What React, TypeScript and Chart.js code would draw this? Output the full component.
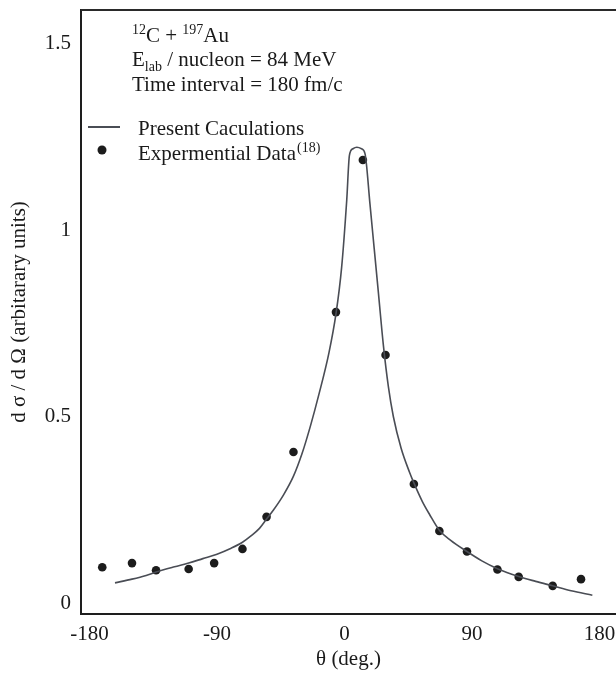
import React, { useEffect, useRef } from "react";
import { Chart, registerables } from "chart.js";

Chart.register(...registerables);

// Calculated curve (theta in degrees, dσ/dΩ arbitrary units)
const curveTheta = [-162, -150, -140, -133, -120, -110, -100, -90, -80, -72, -66, -60, -55, -50, -43, -36, -30, -24, -18, -11, -6, -2, 1.6, 3.5, 6, 8.7, 12, 14.5, 18, 21, 24, 27.5, 31, 34.5, 40, 46, 49, 55, 60, 67, 75, 86.5, 97, 108, 123, 135, 147, 160, 175];
const curveValue = [0.054, 0.064, 0.074, 0.083, 0.097, 0.107, 0.119, 0.131, 0.147, 0.163, 0.18, 0.2, 0.225, 0.25, 0.29, 0.34, 0.4, 0.475, 0.56, 0.67, 0.775, 0.9, 1.08, 1.2, 1.218, 1.222, 1.218, 1.205, 1.07, 0.95, 0.83, 0.69, 0.58, 0.5, 0.415, 0.35, 0.322, 0.272, 0.238, 0.195, 0.168, 0.138, 0.113, 0.092, 0.071, 0.058, 0.046, 0.033, 0.021];

// Experimental data points
const dataTheta = [-171, -150, -133, -110, -92, -72, -55, -36, -6, 13, 29, 49, 67, 86.5, 108, 123, 147, 167];
const dataValue = [0.096, 0.107, 0.088, 0.091, 0.107, 0.145, 0.231, 0.405, 0.78, 1.188, 0.665, 0.319, 0.193, 0.138, 0.09, 0.07, 0.046, 0.064];

const xTicks = [-180, -90, 0, 90, 180];
const yTicks = [0, 0.5, 1, 1.5];

const FONT = '"Liberation Serif", "Times New Roman", serif';
const TEXT = "#1a1a1a";
const LINE_COLOR = "#4a4d55";
const DOT_COLOR = "#1c1c1c";

const annotationPlugin = {
  id: "annotationText",
  afterDraw(chart: any) {
    const { ctx, chartArea } = chart;
    const big = `21px ${FONT}`;
    const small = `14px ${FONT}`;
    ctx.save();
    ctx.fillStyle = TEXT;
    ctx.textBaseline = "alphabetic";
    ctx.textAlign = "left";

    // top border of the frame
    ctx.strokeStyle = "#2a2a2a";
    ctx.lineWidth = 2;
    ctx.beginPath();
    ctx.moveTo(chartArea.left, chartArea.top);
    ctx.lineTo(chart.width, chartArea.top);
    ctx.stroke();

    const x0 = chartArea.left + 51;
    const put = (t: string, font: string, x: number, y: number) => {
      ctx.font = font;
      ctx.fillText(t, x, y);
      return x + ctx.measureText(t).width;
    };

    // line 1: 12C + 197Au
    let x = x0;
    let b = 42;
    x = put("12", small, x, b - 8);
    x = put("C + ", big, x, b);
    x = put("197", small, x, b - 8);
    put("Au", big, x, b);

    // line 2: E_lab / nucleon = 84 MeV
    x = x0;
    b = 66;
    x = put("E", big, x, b);
    x = put("lab", small, x, b + 5);
    put(" / nucleon = 84 MeV", big, x, b);

    // line 3
    put("Time interval = 180 fm/c", big, x0, 91);

    // legend
    const ds0 = chart.data.datasets[0];
    const ds1 = chart.data.datasets[1];
    ctx.strokeStyle = ds0.borderColor;
    ctx.lineWidth = 2;
    ctx.beginPath();
    ctx.moveTo(chartArea.left + 7, 127);
    ctx.lineTo(chartArea.left + 39, 127);
    ctx.stroke();
    put("Present Caculations", big, chartArea.left + 57, 135);

    ctx.fillStyle = ds1.backgroundColor;
    ctx.beginPath();
    ctx.arc(chartArea.left + 21, 150, 4.5, 0, Math.PI * 2);
    ctx.fill();
    ctx.fillStyle = TEXT;
    x = put("Expermential Data", big, chartArea.left + 57, 160);
    put("(18)", small, x + 1, 152);

    ctx.restore();
  },
};

export default function App() {
  const ref = useRef<HTMLCanvasElement>(null);

  useEffect(() => {
    if (!ref.current) return;
    const chart = new Chart(ref.current, {
      type: "scatter",
      data: {
        datasets: [
          {
            label: "Present Caculations",
            data: curveTheta.map((t, i) => ({ x: t, y: curveValue[i] })),
            showLine: true,
            borderColor: LINE_COLOR,
            borderWidth: 1.6,
            pointRadius: 0,
            cubicInterpolationMode: "monotone",
            fill: false,
          },
          {
            label: "Expermential Data(18)",
            data: dataTheta.map((t, i) => ({ x: t, y: dataValue[i] })),
            showLine: false,
            backgroundColor: DOT_COLOR,
            borderColor: DOT_COLOR,
            pointRadius: 4.3,
            borderWidth: 0,
          },
        ],
      },
      options: {
        responsive: false,
        animation: false,
        layout: { autoPadding: false, padding: { top: 10, left: 0, right: 0, bottom: 0 } },
        plugins: {
          legend: { display: false },
          tooltip: { enabled: false },
        },
        scales: {
          x: {
            type: "linear",
            min: -186,
            max: 191.7,
            grid: { display: false, drawTicks: false },
            border: { display: true, color: "#1e1e1e", width: 2 },
            afterBuildTicks: (s: any) => {
              s.ticks = xTicks.map((v) => ({ value: v }));
            },
            afterFit: (s: any) => {
              s.height = 59;
              s.paddingLeft = 0;
              s.paddingRight = 0;
            },
            ticks: {
              padding: 8,
              color: TEXT,
              font: { family: FONT, size: 21 },
              callback: (v: any) => String(v),
              maxRotation: 0,
              autoSkip: false,
            },
            title: {
              display: true,
              text: "θ (deg.)",
              color: TEXT,
              font: { family: FONT, size: 21 },
              padding: { top: 0, bottom: 1 },
            },
          },
          y: {
            type: "linear",
            min: -0.0295,
            max: 1.59,
            grid: { display: false, drawTicks: false },
            border: { display: true, color: "#1e1e1e", width: 2 },
            afterBuildTicks: (s: any) => {
              s.ticks = yTicks.map((v) => ({ value: v }));
            },
            afterFit: (s: any) => {
              s.width = 81;
              s.paddingTop = 0;
              s.paddingBottom = 0;
            },
            ticks: {
              padding: 10,
              color: TEXT,
              font: { family: FONT, size: 21 },
              callback: (v: any) => String(v),
              autoSkip: false,
            },
            title: {
              display: true,
              text: "d σ / d Ω (arbitarary units)",
              color: TEXT,
              font: { family: FONT, size: 21 },
              padding: { top: 7, bottom: 0 },
            },
          },
        },
      },
      plugins: [annotationPlugin],
    });
    return () => chart.destroy();
  }, []);

  return (
    <div style={{ position: "fixed", left: 0, top: 0, width: 616, height: 673, background: "#fff" }}>
      <canvas ref={ref} width={616} height={673} style={{ display: "block" }} />
    </div>
  );
}
